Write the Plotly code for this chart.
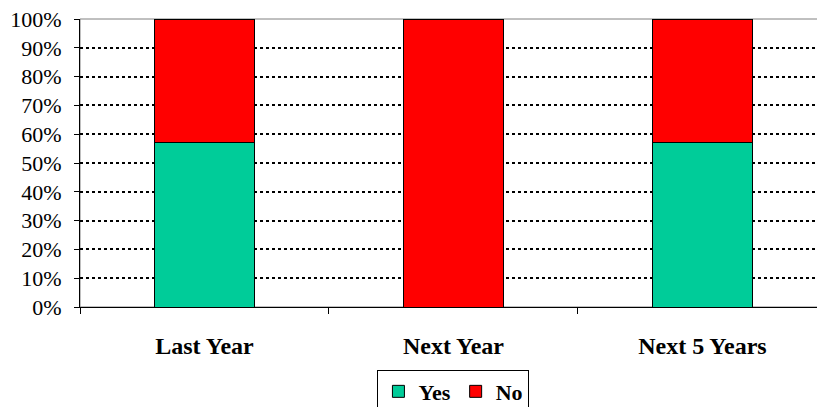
import plotly.graph_objects as go

# Share of respondents per period
periods = ["Last Year", "Next Year", "Next 5 Years"]
yes_share = [57.1, 0.0, 57.1]
no_share = [42.9, 100.0, 42.9]
y_ticks = [0, 10, 20, 30, 40, 50, 60, 70, 80, 90, 100]
y_tick_text = [f"{v}%" for v in y_ticks]

SERIF = "Liberation Serif, Times New Roman, serif"

fig = go.Figure()
fig.add_trace(go.Bar(
    x=periods, y=yes_share, name="Yes",
    marker=dict(color="#00CC99", line=dict(color="black", width=1)),
    width=0.4,
))
fig.add_trace(go.Bar(
    x=periods, y=no_share, name="No",
    marker=dict(color="#FF0000", line=dict(color="black", width=1)),
    width=0.4,
))

fig.update_layout(
    barmode="stack",
    width=817, height=407,
    margin=dict(l=80, r=0, t=19, b=100, autoexpand=False),
    plot_bgcolor="white", paper_bgcolor="white",
    font=dict(family=SERIF, color="black"),
    showlegend=True,
    legend=dict(
        orientation="h", traceorder="normal",
        xref="container", x=0.555, xanchor="center",
        yref="container", y=0.092, yanchor="top",
        bordercolor="black", borderwidth=1,
        font=dict(family=SERIF, size=22, color="black", weight="bold"),
        itemwidth=30, tracegroupgap=0,
    ),
    shapes=[dict(type="rect", xref="paper", yref="paper", x0=0, x1=1.01, y0=0, y1=1,
                 line=dict(color="#808080", width=1), layer="below")],
)

fig.update_xaxes(
    range=[-0.5, 2.46],
    showline=True, linecolor="black", linewidth=1,
    ticks="outside", ticklen=6, tickcolor="black", tickson="boundaries",
    tickfont=dict(family=SERIF, size=24, color="black", weight="bold"),
    ticklabelstandoff=17,
    showgrid=False,
)
fig.update_yaxes(
    range=[0, 100],
    tickvals=y_ticks, ticktext=y_tick_text,
    showline=True, linecolor="black", linewidth=1,
    ticks="outside", ticklen=5, tickcolor="black",
    tickfont=dict(family=SERIF, size=22, color="black"),
    ticklabelstandoff=8,
    showgrid=True, gridcolor="black", gridwidth=1.5, griddash="3px,3px",
    zeroline=False,
)

fig.write_html("out.html")
